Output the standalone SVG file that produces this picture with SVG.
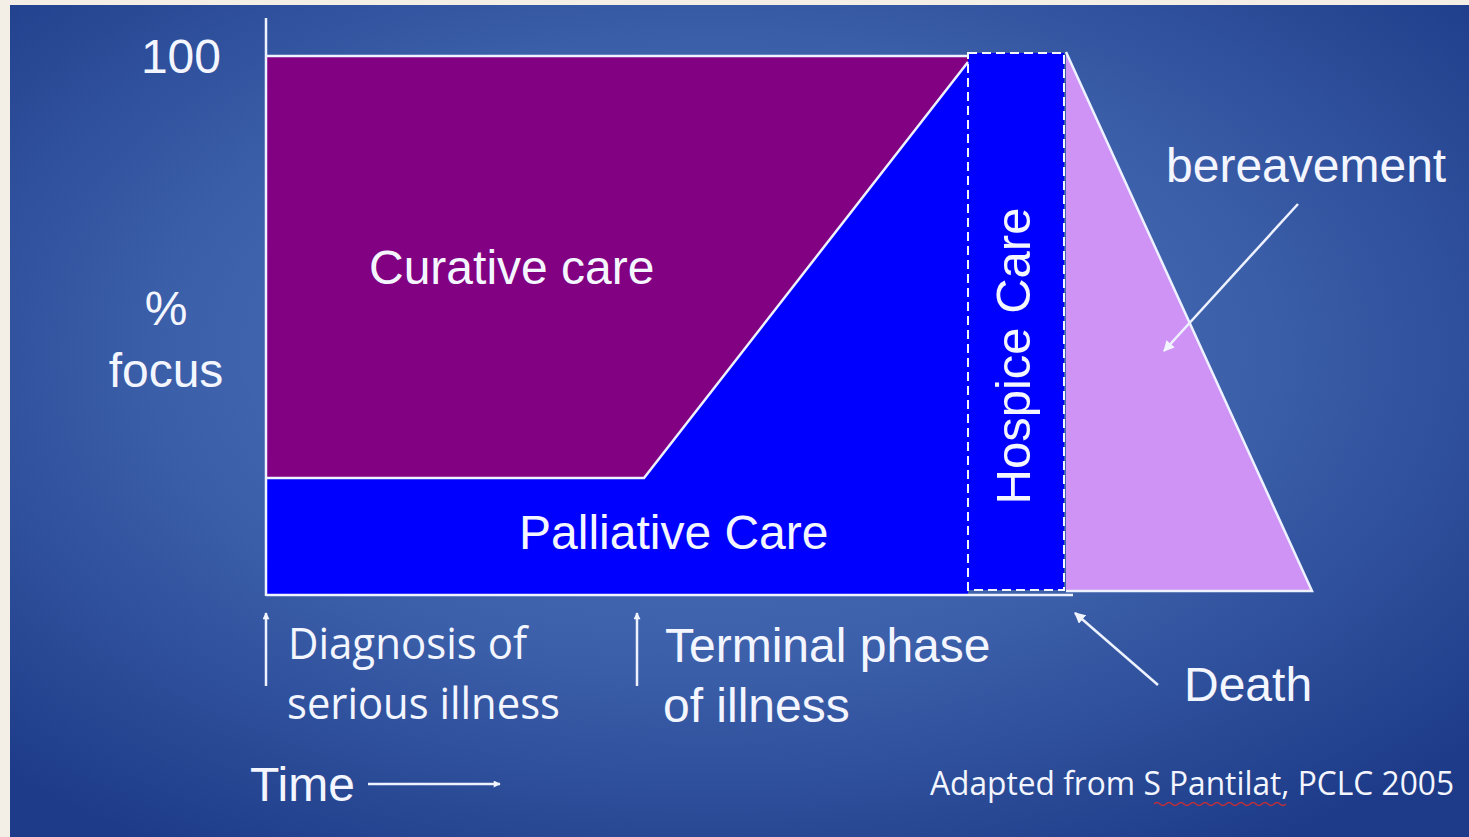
<svg xmlns="http://www.w3.org/2000/svg" width="1469" height="837" viewBox="0 0 1469 837">
<defs>
<radialGradient id="bg" cx="48%" cy="42%" r="70%">
<stop offset="0" stop-color="#5279bf"/>
<stop offset="0.55" stop-color="#3b5ea9"/>
<stop offset="1" stop-color="#1d3b88"/>
</radialGradient>
<marker id="ah" viewBox="0 0 10 10" refX="9" refY="5" markerWidth="8" markerHeight="7" orient="auto" markerUnits="userSpaceOnUse">
<path d="M0,0 L10,5 L0,10 z" fill="#f2f5ff"/>
</marker>
<marker id="ahs" viewBox="0 0 10 10" refX="9" refY="5" markerWidth="11" markerHeight="11" orient="auto" markerUnits="userSpaceOnUse">
<path d="M0,0 L10,5 L0,10 z" fill="#f2f5ff"/>
</marker>
<style>
.t{font-family:"Liberation Sans",Arial,sans-serif;font-size:48px;fill:#f4f6ff}
.c{font-family:"Open Sans","Noto Sans",sans-serif;fill:#f4f6ff}
.ln{stroke:#eef2ff;stroke-width:2.5;fill:none}
.ar{stroke:#eef2ff;stroke-width:2.5;fill:none}
</style>
</defs>
<rect x="0" y="0" width="1469" height="837" fill="#f3efe7"/>
<rect x="10" y="5" width="1459" height="832" fill="url(#bg)"/>

<g id="curative">
<polygon points="266,56 968,56 968,62 644,478 266,478" fill="#820082"/>
<text class="t" x="369" y="284">Curative care</text>
</g>
<g id="palliative">
<polygon points="266,478 644,478 968,62 968,594 266,594" fill="#0000ff"/>
<text class="t" x="519" y="549">Palliative Care</text>
</g>
<g id="hospice">
<rect x="968" y="53" width="96" height="537" fill="#0000ff" stroke="#f4f6ff" stroke-width="2" stroke-dasharray="9 5"/>
<text class="t" transform="translate(1030,356) rotate(-90)" text-anchor="middle" style="font-size:49px">Hospice Care</text>
</g>
<g id="bereavement">
<polygon points="1066,52 1066,591 1312,591" fill="#cf92f5"/>
<polyline class="ln" points="1066,52 1312,591 1066,591"/>
<text class="t" x="1166" y="182">bereavement</text>
</g>

<g id="axes">
<line class="ln" x1="266" y1="18" x2="266" y2="596"/>
<line class="ln" x1="266" y1="595" x2="1073" y2="595"/>
<line class="ln" x1="266" y1="56" x2="968" y2="56"/>
<polyline class="ln" points="266,478 644,478 968,62"/>
</g>

<g id="labels">
<text class="t" x="221" y="73" text-anchor="end">100</text>
<text class="t" x="166" y="325" text-anchor="middle">%</text>
<text class="t" x="166" y="387" text-anchor="middle">focus</text>
<text class="c" x="288" y="659" font-size="44" textLength="239" lengthAdjust="spacingAndGlyphs">Diagnosis of</text>
<text class="c" x="287" y="719" font-size="44" textLength="273" lengthAdjust="spacingAndGlyphs">serious illness</text>
<text class="t" x="665" y="662">Terminal phase</text>
<text class="t" x="663" y="722">of illness</text>
<text class="t" x="1184" y="701">Death</text>
<text class="t" x="250" y="801">Time</text>
<text class="c" x="930" y="795" font-size="32" textLength="524" lengthAdjust="spacingAndGlyphs">Adapted from S Pantilat, PCLC 2005</text>
<path d="M1154,804 q3,-3 6,0 t6,0 t6,0 t6,0 t6,0 t6,0 t6,0 t6,0 t6,0 t6,0 t6,0 t6,0 t6,0 t6,0 t6,0 t6,0 t6,0 t6,0 t6,0 t6,0 t6,0 t6,0" fill="none" stroke="#c0303a" stroke-width="1.5"/>
</g>

<g id="connectors">
<line class="ar" x1="266" y1="686" x2="266" y2="613" marker-end="url(#ah)" stroke-width="2"/>
<line class="ar" x1="637" y1="686" x2="637" y2="613" marker-end="url(#ah)" stroke-width="2"/>
<line class="ar" x1="368" y1="784" x2="500" y2="784" marker-end="url(#ah)" stroke-width="2"/>
<line class="ar" x1="1158" y1="685" x2="1075" y2="613" marker-end="url(#ahs)"/>
<line class="ar" x1="1298" y1="204" x2="1164" y2="351" marker-end="url(#ahs)"/>
</g>
</svg>
